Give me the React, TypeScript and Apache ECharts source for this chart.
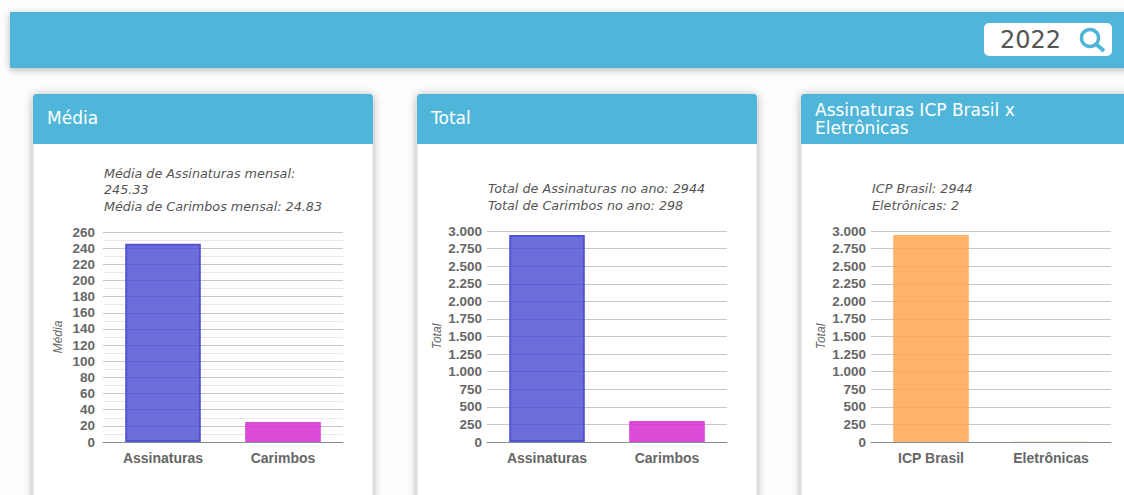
import React, { useEffect, useRef } from "react";
import * as echarts from "echarts";

const yearLabel = "2022";
const panelTitles = ["Média", "Total", "Assinaturas ICP Brasil x\nEletrônicas"];
const panelNotes = [
  "Média de Assinaturas mensal:\n245.33\nMédia de Carimbos mensal: 24.83",
  "Total de Assinaturas no ano: 2944\nTotal de Carimbos no ano: 298",
  "ICP Brasil: 2944\nEletrônicas: 2",
];
const axisNames = ["Média", "Total", "Total"];
const categoriesA = ["Assinaturas", "Carimbos"];
const categoriesB = ["ICP Brasil", "Eletrônicas"];
const mediaValues = [245.33, 24.83];
const totalValues = [2944, 298];
const icpValues = [2944, 2];

const panelX = [33, 417, 801];
const TITLE_FONT = "'DejaVu Sans', sans-serif";
const AXIS_FONT = "'Liberation Sans', Arial, sans-serif";
const BLUE = "#50b6d9";

const fmt = (v: number) => String(v).replace(/\B(?=(\d{3})+(?!\d))/g, ".");

const grid = (x: number, top: number) => ({
  left: x + 70,
  width: 240,
  top,
  height: 442 - top,
});

function bar(i: number, values: number[], fills: string[], strokes: string[], borderWidth: number) {
  return {
    type: "bar",
    xAxisIndex: i,
    yAxisIndex: i,
    barWidth: "63%",
    silent: true,
    data: values.map((v, k) => ({
      value: v,
      itemStyle: { color: fills[k], borderColor: strokes[k], borderWidth },
    })),
  };
}

function App() {
  const ref = useRef<HTMLDivElement>(null);
  useEffect(() => {
    document.body.style.margin = "0";
    document.body.style.background = "#fdfdfd";
    const chart = echarts.init(ref.current!, undefined, { renderer: "svg" });
    const xAxis = (i: number, data: string[]) => ({
      type: "category",
      gridIndex: i,
      data,
      axisTick: { show: false },
      axisLine: { lineStyle: { color: "#7f8f92", width: 1 } },
      axisLabel: {
        color: "#666666",
        fontFamily: AXIS_FONT,
        fontWeight: "bold",
        fontSize: 14,
        margin: 9,
      },
    });
    const yAxis = (i: number, max: number, interval: number, minor: boolean) => ({
      type: "value",
      gridIndex: i,
      min: 0,
      max,
      interval,
      name: axisNames[i],
      nameLocation: "middle",
      nameGap: i === 0 ? 39 : 44,
      nameTextStyle: {
        color: "#666666",
        fontStyle: "italic",
        fontSize: 12,
        fontFamily: AXIS_FONT,
      },
      axisLine: { show: false },
      axisTick: { show: false },
      axisLabel: {
        color: "#666666",
        fontFamily: AXIS_FONT,
        fontWeight: "bold",
        fontSize: 13.5,
        margin: i === 0 ? 8 : 5,
        formatter: (v: number) => fmt(v),
      },
      splitLine: { show: true, lineStyle: { color: "#c4c8ca", width: 1 } },
      minorTick: { show: false, splitNumber: 2 },
      minorSplitLine: { show: minor, lineStyle: { color: "#e8e8e8", width: 1 } },
    });

    const graphic: any[] = [
      {
        type: "rect",
        z: -10,
        shape: { x: 10, y: 12, width: 1124, height: 56 },
        style: {
          fill: BLUE,
          shadowBlur: 7,
          shadowColor: "rgba(0,0,0,0.28)",
          shadowOffsetY: 2,
        },
      },
      {
        type: "rect",
        z: -9,
        shape: { x: 984, y: 23, width: 128, height: 33, r: 5 },
        style: { fill: "#ffffff" },
      },
      {
        type: "text",
        z: -8,
        x: 1000,
        y: 40,
        style: {
          text: yearLabel,
          fill: "#555555",
          font: `24px ${TITLE_FONT}`,
          verticalAlign: "middle",
        },
      },
      {
        type: "circle",
        z: -8,
        shape: { cx: 1090, cy: 38, r: 8.5 },
        style: { fill: "none", stroke: BLUE, lineWidth: 3.5 },
      },
      {
        type: "line",
        z: -8,
        shape: { x1: 1096, y1: 44, x2: 1104, y2: 51 },
        style: { stroke: BLUE, lineWidth: 4 },
      },
    ];

    panelX.forEach((x, i) => {
      graphic.push(
        {
          type: "rect",
          z: -10,
          shape: { x, y: 94, width: 340, height: 460, r: 4 },
          style: {
            fill: "#ffffff",
            stroke: "#d4d4d4",
            lineWidth: 1,
            shadowBlur: 8,
            shadowColor: "rgba(0,0,0,0.3)",
            shadowOffsetY: 1,
          },
        },
        {
          type: "rect",
          z: -9,
          shape: { x, y: 94, width: 340, height: 50, r: [4, 4, 0, 0] },
          style: { fill: BLUE },
        },
        {
          type: "text",
          z: -8,
          x: x + 14,
          y: i === 2 ? 119 : 118,
          style: {
            text: panelTitles[i],
            fill: "#ffffff",
            font: `17px ${TITLE_FONT}`,
            lineHeight: 18,
            verticalAlign: "middle",
          },
        },
        {
          type: "text",
          z: -8,
          x: x + 71,
          y: i === 0 ? 189.5 : 197,
          style: {
            text: panelNotes[i],
            fill: "#555555",
            font: `italic 12.75px ${TITLE_FONT}`,
            lineHeight: 16.5,
            verticalAlign: "middle",
          },
        }
      );
    });

    chart.setOption({
      animation: false,
      backgroundColor: "transparent",
      graphic,
      grid: [grid(panelX[0], 232), grid(panelX[1], 231), grid(panelX[2], 231)],
      xAxis: [xAxis(0, categoriesA), xAxis(1, categoriesA), xAxis(2, categoriesB)],
      yAxis: [
        yAxis(0, 260, 20, true),
        yAxis(1, 3000, 250, false),
        yAxis(2, 3000, 250, false),
      ],
      series: [
        bar(0, mediaValues, ["rgba(72,72,210,0.8)", "rgba(214,45,210,0.85)"], ["#5252d4", "#dc48d8"], 2),
        bar(1, totalValues, ["rgba(72,72,210,0.8)", "rgba(214,45,210,0.85)"], ["#5252d4", "#dc48d8"], 2),
        bar(2, icpValues, ["rgba(255,166,80,0.85)", "rgba(255,166,80,0.85)"], ["#ffb066", "#ffb066"], 0),
      ],
    });
    return () => chart.dispose();
  }, []);
  return (
    <div
      ref={ref}
      style={{ position: "absolute", left: 0, top: 0, width: 1124, height: 495, overflow: "hidden" }}
    />
  );
}

export default App;
